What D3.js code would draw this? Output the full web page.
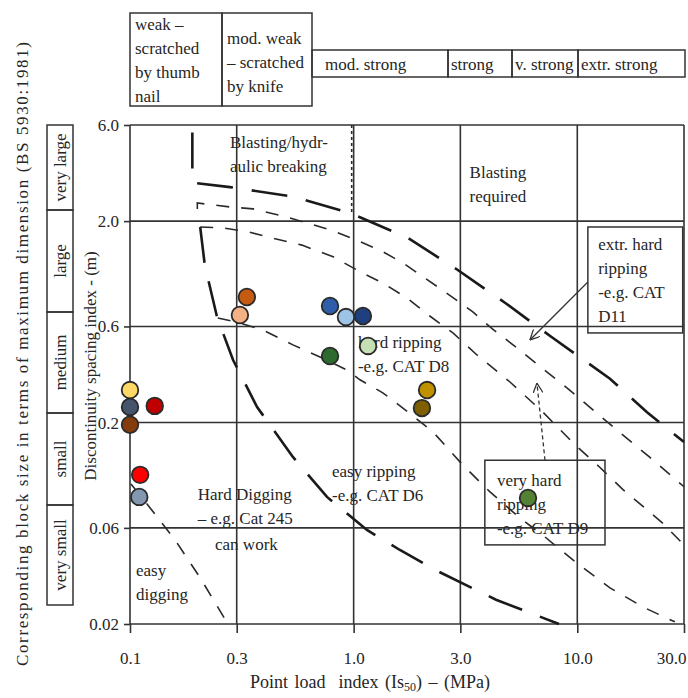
<!DOCTYPE html>
<html lang="en">
<head>
<meta charset="UTF-8">
<title>Excavatability chart</title>
<script src="https://d3js.org/d3.v7.min.js"></script>
<style>
  body { margin: 0; background: #fff; }
  svg text { font-family: "Liberation Serif", "Times New Roman", serif; fill: #262626; }
</style>
</head>
<body>
<div id="chart"></div>
<script>
// ---- axis ticks ----
const xTicks = [0.1, 0.3, 1.0, 3.0, 10.0, 30.0];
const xTickLabels = ["0.1", "0.3", "1.0", "3.0", "10.0", "30.0"];
const yTicks = [0.02, 0.06, 0.2, 0.6, 2.0, 6.0];
const yTickLabels = ["0.02", "0.06", "0.2", "0.6", "2.0", "6.0"];

// ---- zone boundaries, [Is50 (MPa), spacing (m)] ----
const blastingLine = [[0.19, 5.5], [0.19, 3.1], [0.28, 2.95], [0.53, 2.65], [0.96, 2.2], [1.75, 1.65],
  [2.9, 1.15], [4.8, 0.78], [7.7, 0.53], [14, 0.33], [20.5, 0.225], [30, 0.16]];
const extrHardLine = [[0.2, 2.3], [0.2, 2.46], [0.28, 2.35], [0.355, 2.3], [0.5, 2.1], [0.81, 1.79],
  [1.07, 1.58], [1.35, 1.41], [1.66, 1.24], [2.04, 1.06], [2.6, 0.88], [3.4, 0.71], [4.2, 0.58],
  [5.3, 0.475], [9.1, 0.294], [15, 0.184], [21, 0.135], [30, 0.096]];
const veryHardLine = [[0.206, 1.87], [0.26, 1.85], [0.337, 1.77], [0.431, 1.65], [0.587, 1.52],
  [0.81, 1.33], [1.07, 1.12], [1.35, 0.986], [1.73, 0.831], [2.19, 0.676], [2.78, 0.557], [3.56, 0.433],
  [5.0, 0.318], [7.0, 0.226], [9.6, 0.158], [12.6, 0.12], [16, 0.093], [19.6, 0.077], [24, 0.0635], [30, 0.0494]];
const hardRipLine = [[0.247, 0.661], [0.30, 0.631], [0.393, 0.576], [0.535, 0.486], [0.707, 0.423],
  [0.933, 0.365], [1.067, 0.326], [1.35, 0.281], [1.66, 0.236], [2.26, 0.18], [3.08, 0.123],
  [4.07, 0.0905], [5.54, 0.0672], [7.17, 0.0541], [9.56, 0.0416], [14, 0.0302], [20.1, 0.024], [27.3, 0.0205]];
const diggingLine = [[0.206, 1.87], [0.216, 1.21], [0.245, 0.668], [0.289, 0.409], [0.37, 0.239],
  [0.535, 0.135], [0.76, 0.0855], [1.147, 0.0586], [1.61, 0.0466], [2.41, 0.0363], [4.33, 0.0264], [8.28, 0.02]];
const easyDigLine = [[0.101, 0.099], [0.123, 0.0754], [0.159, 0.0523], [0.206, 0.0339], [0.274, 0.02]];
const blastCutoff = [[0.98, 6.0], [0.98, 2.22]];

// ---- site samples ----
const sampleIs = [0.333, 0.31, 0.784, 0.924, 1.10, 0.784, 1.16, 0.10, 0.10, 0.10, 0.129, 2.13, 2.02, 0.111, 0.110, 6.02];
const sampleSpacing = [0.84, 0.684, 0.758, 0.668, 0.676, 0.428, 0.48, 0.29, 0.239, 0.195, 0.242, 0.29, 0.236, 0.11, 0.0855, 0.0845];
const sampleColors = ["#c55a11", "#f4b183", "#2e5eaa", "#9dc3e6", "#1f3f7f", "#2d6a2d", "#c5e0b4", "#ffd966",
  "#44546a", "#843c0c", "#c00000", "#bf9000", "#7f6000", "#ff0000", "#8497b0", "#548235"];

// ---- class tables ----
const strengthTall = [["weak \u2013", "scratched", "by thumb", "nail"], ["mod. weak", "\u2013 scratched", "by knife"]];
const strengthRow = ["mod. strong", "strong", "v. strong", "extr. strong"];
const blockClasses = ["very large", "large", "medium", "small", "very small"];

// ---- zone annotations ----
const zoneLabels = [
  { lines: ["Blasting/hydr-", "aulic breaking"], at: [0.28, 4.6] },
  { lines: ["Blasting", "required"], at: [3.3, 3.27] },
  { lines: ["extr. hard", "ripping", "-e.g. CAT", "D11"], at: [12.4, 1.44] },
  { lines: ["hard ripping", "-e.g. CAT D8"], at: [1.045, 0.469] },
  { lines: ["easy ripping", "-e.g. CAT D6"], at: [0.80, 0.1075] },
  { lines: ["Hard Digging", "\u2013 e.g. Cat 245"], at: [0.201, 0.0826] },
  { lines: ["can  work"], at: [0.24, 0.0466] },
  { lines: ["easy", "digging"], at: [0.1064, 0.0347] },
  { lines: ["very hard", "ripping", "-e.g. CAT D9"], at: [4.37, 0.0969] }
];
const noteBoxes = [[[11.15, 1.87], [29.6, 0.557]], [[3.86, 0.13], [13.3, 0.0494]]];
const noteArrows = [
  { from: [11.15, 0.997], to: [6.14, 0.514], dashed: false },
  { from: [7.17, 0.13], to: [6.6, 0.314], dashed: true }
];

// ---- layout ----
const W = 688, H = 698;
const plot = { left: 130, right: 684, top: 125, bottom: 624 };
const ink = "#333";
const fontSize = 17;

const svg = d3.select("#chart").append("svg")
  .attr("width", W).attr("height", H)
  .style("background", "#fff");

const x = d3.scaleLog().domain([0.1, 30]).range([plot.left, plot.right]);
const y = d3.scaleLog().domain([0.02, 6]).range([plot.bottom, plot.top]);

// grid (also forms the frame)
const grid = svg.append("g").attr("stroke", ink).attr("stroke-width", 1.6);
grid.selectAll("line.v").data(xTicks).enter().append("line")
  .attr("x1", d => x(d)).attr("x2", d => x(d))
  .attr("y1", plot.top).attr("y2", plot.bottom);
grid.selectAll("line.h").data(yTicks).enter().append("line")
  .attr("y1", d => y(d)).attr("y2", d => y(d))
  .attr("x1", plot.left).attr("x2", plot.right);

// axes
const xAxis = svg.append("g")
  .attr("transform", `translate(0,${plot.bottom})`)
  .call(d3.axisBottom(x).tickValues(xTicks).tickFormat((d, i) => xTickLabels[i])
    .tickSizeInner(9).tickSizeOuter(0).tickPadding(19));
const yAxis = svg.append("g")
  .attr("transform", `translate(${plot.left},0)`)
  .call(d3.axisLeft(y).tickValues(yTicks).tickFormat((d, i) => yTickLabels[i])
    .tickSizeInner(6).tickSizeOuter(0).tickPadding(5));
[xAxis, yAxis].forEach(g => {
  g.select(".domain").remove();
  g.attr("font-family", null).attr("font-size", null);
  g.selectAll("line").attr("stroke", ink).attr("stroke-width", 1.6);
  g.selectAll("text").attr("font-size", fontSize).attr("fill", "#262626");
});
// last label sits inside the right edge
xAxis.selectAll(".tick").filter(d => d === 30.0).select("text")
  .attr("text-anchor", "end").attr("x", 2);

// axis titles
const xTitle = svg.append("text")
  .attr("x", 370).attr("y", 688)
  .attr("text-anchor", "middle")
  .attr("font-size", 18)
  .attr("word-spacing", 2)
  .style("white-space", "pre");
xTitle.append("tspan").text("Point load  index (Is");
xTitle.append("tspan").attr("font-size", 12).attr("dy", 3).text("50");
xTitle.append("tspan").attr("dy", -3).text(") \u2013 (MPa)");

svg.append("text")
  .attr("transform", "translate(96,366) rotate(-90)")
  .attr("text-anchor", "middle")
  .attr("font-size", fontSize)
  .text("Discontinuity spacing index - (m)");

svg.append("text")
  .attr("transform", "translate(28,354) rotate(-90)")
  .attr("text-anchor", "middle")
  .attr("font-size", fontSize)
  .attr("textLength", 624)
  .attr("lengthAdjust", "spacing")
  .text("Corresponding block size in terms of maximum dimension (BS 5930:1981)");

// top strength table
const tallEdges = [130, 222, 312];
const tallTop = 13, tallBottom = 106;
const rowEdges = [312, 448, 512, 578, 685];
const rowTop = 50, rowBottom = 77;
const table = svg.append("g");
strengthTall.forEach((lines, i) => {
  table.append("rect")
    .attr("x", tallEdges[i]).attr("y", tallTop)
    .attr("width", tallEdges[i + 1] - tallEdges[i]).attr("height", tallBottom - tallTop)
    .attr("fill", "none").attr("stroke", ink).attr("stroke-width", 1.5);
  const firstBase = i === 0 ? 30 : 44;
  lines.forEach((t, j) => {
    table.append("text")
      .attr("x", tallEdges[i] + 5).attr("y", firstBase + j * 24)
      .attr("font-size", fontSize).text(t);
  });
});
strengthRow.forEach((t, i) => {
  table.append("rect")
    .attr("x", rowEdges[i]).attr("y", rowTop)
    .attr("width", rowEdges[i + 1] - rowEdges[i]).attr("height", rowBottom - rowTop)
    .attr("fill", "none").attr("stroke", ink).attr("stroke-width", 1.5);
  table.append("text")
    .attr("x", rowEdges[i] + (i === 0 ? 13 : 3)).attr("y", 70)
    .attr("font-size", fontSize).text(t);
});

// left block-size table
const blockEdges = [125, 210, 312, 413, 505, 605];
const blockLeft = 47, blockRight = 73;
blockClasses.forEach((t, i) => {
  table.append("rect")
    .attr("x", blockLeft).attr("y", blockEdges[i])
    .attr("width", blockRight - blockLeft).attr("height", blockEdges[i + 1] - blockEdges[i])
    .attr("fill", "none").attr("stroke", ink).attr("stroke-width", 1.5);
  const cy = (blockEdges[i] + blockEdges[i + 1]) / 2;
  table.append("text")
    .attr("transform", `translate(${blockRight - 7},${cy}) rotate(-90)`)
    .attr("text-anchor", "middle")
    .attr("font-size", fontSize).text(t);
});

// zone boundaries
const line = d3.line().x(d => x(d[0])).y(d => y(d[1]));
const heavy = { w: 2.6, dash: "36,19", c: "#1a1a1a" };
const medium = { w: 1.6, dash: "13,12", c: "#2a2a2a" };
const boundaries = [
  { pts: blastingLine, s: heavy },
  { pts: extrHardLine, s: medium },
  { pts: veryHardLine, s: medium },
  { pts: hardRipLine, s: medium },
  { pts: diggingLine, s: heavy },
  { pts: easyDigLine, s: medium },
  { pts: blastCutoff, s: { w: 1.6, dash: "3,3", c: "#2a2a2a" } }
];
svg.append("g").selectAll("path").data(boundaries).enter().append("path")
  .attr("d", d => line(d.pts))
  .attr("fill", "none")
  .attr("stroke", d => d.s.c)
  .attr("stroke-width", d => d.s.w)
  .attr("stroke-dasharray", d => d.s.dash);

// annotation boxes and arrows
svg.append("g").selectAll("rect").data(noteBoxes).enter().append("rect")
  .attr("x", d => x(d[0][0])).attr("y", d => y(d[0][1]))
  .attr("width", d => x(d[1][0]) - x(d[0][0]))
  .attr("height", d => y(d[1][1]) - y(d[0][1]))
  .attr("fill", "none").attr("stroke", ink).attr("stroke-width", 1.5);

svg.append("defs").append("marker")
  .attr("id", "head").attr("viewBox", "0 0 10 10")
  .attr("refX", 10).attr("refY", 5)
  .attr("markerWidth", 10).attr("markerHeight", 10)
  .attr("markerUnits", "userSpaceOnUse")
  .attr("orient", "auto")
  .append("path").attr("d", "M0,0 L10,5 L0,10")
  .attr("fill", "none").attr("stroke", ink).attr("stroke-width", 1.3);

svg.append("g").selectAll("line").data(noteArrows).enter().append("line")
  .attr("x1", d => x(d.from[0])).attr("y1", d => y(d.from[1]))
  .attr("x2", d => x(d.to[0])).attr("y2", d => y(d.to[1]))
  .attr("stroke", ink).attr("stroke-width", 1.3)
  .attr("stroke-dasharray", d => d.dashed ? "4,3" : null)
  .attr("marker-end", "url(#head)");

// zone labels
const labels = svg.append("g").attr("font-size", fontSize).style("white-space", "pre");
zoneLabels.forEach(lab => {
  lab.lines.forEach((t, j) => {
    labels.append("text")
      .attr("x", x(lab.at[0])).attr("y", y(lab.at[1]) + j * 24)
      .text(t);
  });
});

// samples
const samples = sampleIs.map((v, i) => ({ is: v, sp: sampleSpacing[i], c: sampleColors[i] }));
svg.append("g").selectAll("circle").data(samples).enter().append("circle")
  .attr("cx", d => x(d.is)).attr("cy", d => y(d.sp))
  .attr("r", 8.3)
  .attr("fill", d => d.c)
  .attr("stroke", "#2b2b2b").attr("stroke-width", 1.8);
</script>
</body>
</html>
